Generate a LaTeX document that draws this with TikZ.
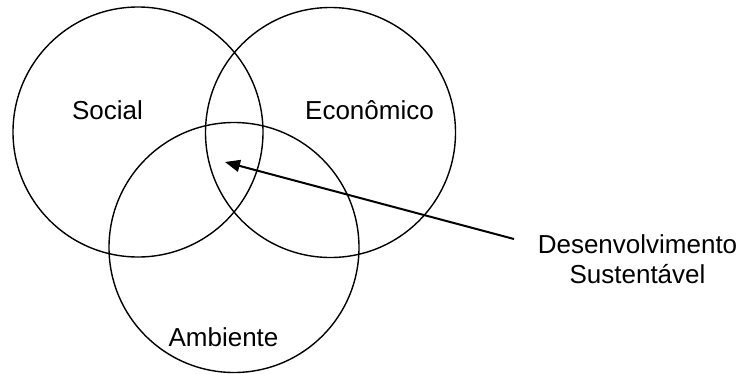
\documentclass[tikz,border=0pt]{standalone}
\usepackage{fontspec}
\setmainfont{Liberation Sans}
\usetikzlibrary{arrows.meta}
\begin{document}
\begin{tikzpicture}[x=1pt,y=-1pt,
  ring/.style={draw=black,line width=1.4pt,circle,minimum size=250pt,inner sep=0pt},
  lbl/.style={font=\fontsize{26}{30}\selectfont,inner sep=0pt,anchor=base,align=center},
  pointer/.style={draw=black,line width=2pt,-{Triangle[length=15pt,width=12pt]}}]
\useasboundingbox (0,0) rectangle (744,373);
\node[ring] (soc) at (138,132) {};
\node[ring] (eco) at (330.5,132.5) {};
\node[ring] (amb) at (234,247.5) {};
\node[lbl] (tsoc) at (107.5,119) {Social};
\node[lbl] (teco) at (369.5,119) {Econômico};
\node[lbl] (tamb) at (223.5,346) {Ambiente};
\node[lbl] (tdes) at (637.5,283) {Desenvolvimento\\Sustentável};
\coordinate (tail) at (514,239);
\coordinate (tip) at (225,162);
\draw[pointer] (tail) -- (tip);
\end{tikzpicture}
\end{document}
